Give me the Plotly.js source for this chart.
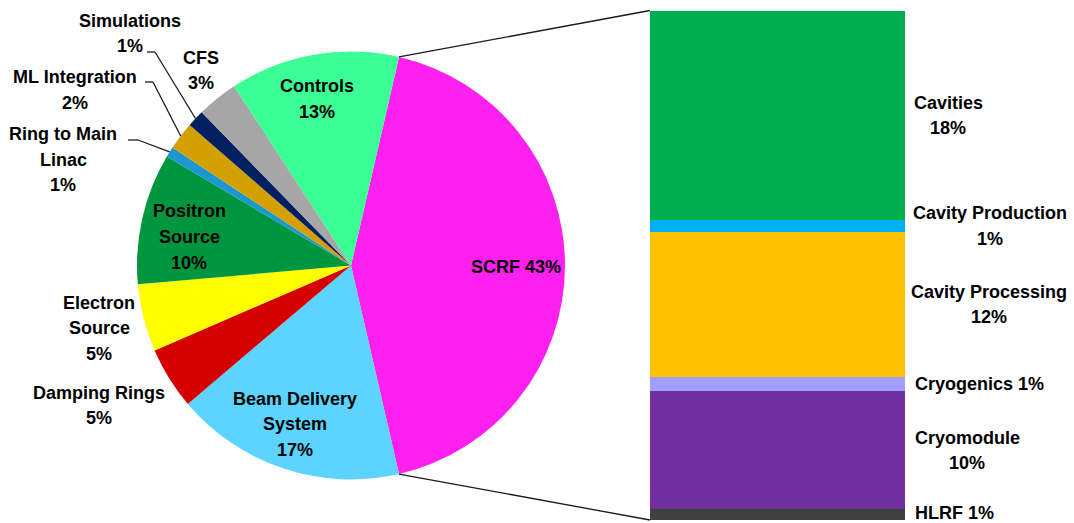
<!DOCTYPE html>
<html>
<head>
<meta charset="utf-8">
<script src="https://cdn.plot.ly/plotly-3.0.1.min.js"></script>
<style>html,body{margin:0;padding:0;background:#fff;}#chart{width:1074px;height:523px;}</style>
</head>
<body>
<div id="chart"></div>
<script>
// ---------------- DATA ----------------
// Pie slices (percent of total), clockwise starting with SCRF
const pieLabels = ['SCRF', 'Beam Delivery System', 'Damping Rings', 'Electron Source', 'Positron Source',
                   'Ring to Main Linac', 'ML Integration', 'Simulations', 'CFS', 'Controls'];
const pieOtherValues = [17.4, 4.7, 5.1, 9.9, 0.8, 2.1, 1.3, 3.1, 12.8]; // all slices except SCRF
const pieColors = ['#FF1FEF', '#5CD4FF', '#D40000', '#FFFF00', '#00963F',
                   '#1C97CF', '#D4A000', '#002060', '#A6A6A6', '#3BFF95'];

// SCRF breakdown (bar, top to bottom)
const barLabels = ['Cavities', 'Cavity Production', 'Cavity Processing', 'Cryogenics', 'Cryomodule', 'HLRF'];
const barValues = [17.6, 1.0, 12.2, 1.2, 9.9, 0.9];
const barColors = ['#00B050', '#00B0F0', '#FFC000', '#A29EFF', '#7030A0', '#404040'];

const scrfValue = barValues.reduce((a, b) => a + b, 0);
const pieValues = [scrfValue].concat(pieOtherValues);
const pct = v => Math.round(v) + '%';

// ---------------- LAYOUT GEOMETRY (pixels) ----------------
const W = 1074, H = 523;
const PIE_CX = 351, PIE_CY = 265.5, PIE_R = 214;
const BAR_X0 = 650, BAR_X1 = 905, BAR_TOP = 10.5, BAR_BOT = 520;
const LINE_H = 25.5;
const FONT = {family: 'Liberation Sans, Arial, sans-serif', size: 18, color: '#000'};

const px = x => x / W;
const py = y => 1 - y / H;

// pie label placement: wrapped text and block centre (pixels)
const pieLabelLayout = [
  {wrap: ['SCRF ' + '{p}'], x: 516, y: 267},
  {wrap: ['Beam Delivery', 'System', '{p}'], x: 295, y: 424.3},
  {wrap: ['Damping Rings', '{p}'], x: 99, y: 405.5},
  {wrap: ['Electron', 'Source', '{p}'], x: 99, y: 328},
  {wrap: ['Positron', 'Source', '{p}'], x: 189, y: 237},
  {wrap: ['Ring to Main', 'Linac', '{p}'], x: 63, y: 160, leader: [[128, 140], [138, 140]]},
  {wrap: ['ML Integration', '{p}'], x: 75, y: 90, leader: [[145, 82], [153, 82]]},
  {wrap: ['Simulations', '{p}'], x: 130, y: 33.5, leader: [[147, 52], [155, 52]]},
  {wrap: ['CFS', '{p}'], x: 201, y: 70.5},
  {wrap: ['Controls', '{p}'], x: 317, y: 99}
];

const barLabelLayout = [
  {wrap: ['Cavities', '{p}'], x: 948, anchor: 'center'},
  {wrap: ['Cavity Production', '{p}'], x: 990, anchor: 'center'},
  {wrap: ['Cavity Processing', '{p}'], x: 989, anchor: 'center'},
  {wrap: ['Cryogenics {p}'], x: 914, anchor: 'left'},
  {wrap: ['Cryomodule', '{p}'], x: 967, anchor: 'center'},
  {wrap: ['HLRF {p}'], x: 914, anchor: 'left', shift: 2}
];

// ---------------- TRACES ----------------
const total = pieValues.reduce((a, b) => a + b, 0);
const scrfDeg = scrfValue / total * 360;
const rotation = 90 - scrfDeg / 2;

const traces = [];
traces.push({
  type: 'pie',
  labels: pieLabels,
  values: pieValues,
  marker: {colors: pieColors, line: {width: 0}},
  sort: false,
  direction: 'clockwise',
  rotation: rotation,
  textinfo: 'none',
  hoverinfo: 'label+percent',
  showlegend: false,
  domain: {x: [px(PIE_CX - PIE_R), px(PIE_CX + PIE_R)], y: [py(PIE_CY + PIE_R), py(PIE_CY - PIE_R)]}
});

for (let i = barValues.length - 1; i >= 0; i--) {
  traces.push({
    type: 'bar', x: [0], y: [barValues[i]], name: barLabels[i], width: 1,
    marker: {color: barColors[i], line: {width: 0}},
    xaxis: 'x', yaxis: 'y', hoverinfo: 'name+y', showlegend: false
  });
}

// ---------------- ANNOTATIONS ----------------
const annotations = [];
function addLines(lines, xPaper, xanchor, yref, yVal, extraShift) {
  const n = lines.length;
  lines.forEach((t, i) => {
    annotations.push({
      text: '<b>' + t + '</b>', xref: 'paper', yref: yref, x: xPaper, y: yVal,
      xanchor: xanchor, yanchor: 'middle', showarrow: false, font: FONT, borderpad: 0,
      yshift: (extraShift || 0) - (i - (n - 1) / 2) * LINE_H
    });
  });
}

pieLabelLayout.forEach((L, i) => {
  const lines = L.wrap.map(s => s.replace('{p}', pct(pieValues[i] / total * 100)));
  addLines(lines, px(L.x), 'center', 'paper', py(L.y), 0);
});

let cum = 0;
const barCenters = [];
for (let i = barValues.length - 1; i >= 0; i--) {
  barCenters[i] = cum + barValues[i] / 2;
  cum += barValues[i];
}
barLabelLayout.forEach((L, i) => {
  const lines = L.wrap.map(s => s.replace('{p}', pct(barValues[i])));
  addLines(lines, px(L.x), L.anchor, 'y', barCenters[i], L.shift || 0);
});

// ---------------- SHAPES (connectors & leader lines) ----------------
const shapes = [];
const deg = Math.PI / 180;
function pieEdge(angleCwDeg) {
  return [PIE_CX + PIE_R * Math.sin(angleCwDeg * deg), PIE_CY - PIE_R * Math.cos(angleCwDeg * deg)];
}
function line(p0, p1) {
  shapes.push({type: 'line', xref: 'paper', yref: 'paper',
    x0: px(p0[0]), y0: py(p0[1]), x1: px(p1[0]), y1: py(p1[1]),
    line: {color: '#1a1a1a', width: 1.3}});
}
// connectors from SCRF slice edges to the bar corners
const topEdge = pieEdge(rotation);
const botEdge = pieEdge(rotation + scrfDeg);
line(topEdge, [BAR_X0, BAR_TOP]);
line(botEdge, [BAR_X0, BAR_BOT]);

// leader lines to small slices
let start = rotation;
pieValues.forEach((v, i) => {
  const span = v / total * 360;
  const L = pieLabelLayout[i];
  if (L.leader) {
    const mid = pieEdge(start + span / 2);
    line(L.leader[0], L.leader[1]);
    line(L.leader[1], mid);
  }
  start += span;
});

const layout = {
  width: W, height: H,
  margin: {l: 0, r: 0, t: 0, b: 0, pad: 0},
  paper_bgcolor: '#fff', plot_bgcolor: 'rgba(0,0,0,0)',
  showlegend: false,
  barmode: 'stack', bargap: 0,
  xaxis: {domain: [px(BAR_X0), px(BAR_X1)], range: [-0.5, 0.5], visible: false, fixedrange: true},
  yaxis: {domain: [py(BAR_BOT), py(BAR_TOP)], range: [0, scrfValue], visible: false, fixedrange: true},
  annotations: annotations,
  shapes: shapes,
  font: FONT
};

Plotly.newPlot('chart', traces, layout, {displayModeBar: false, staticPlot: true});
</script>
</body>
</html>
